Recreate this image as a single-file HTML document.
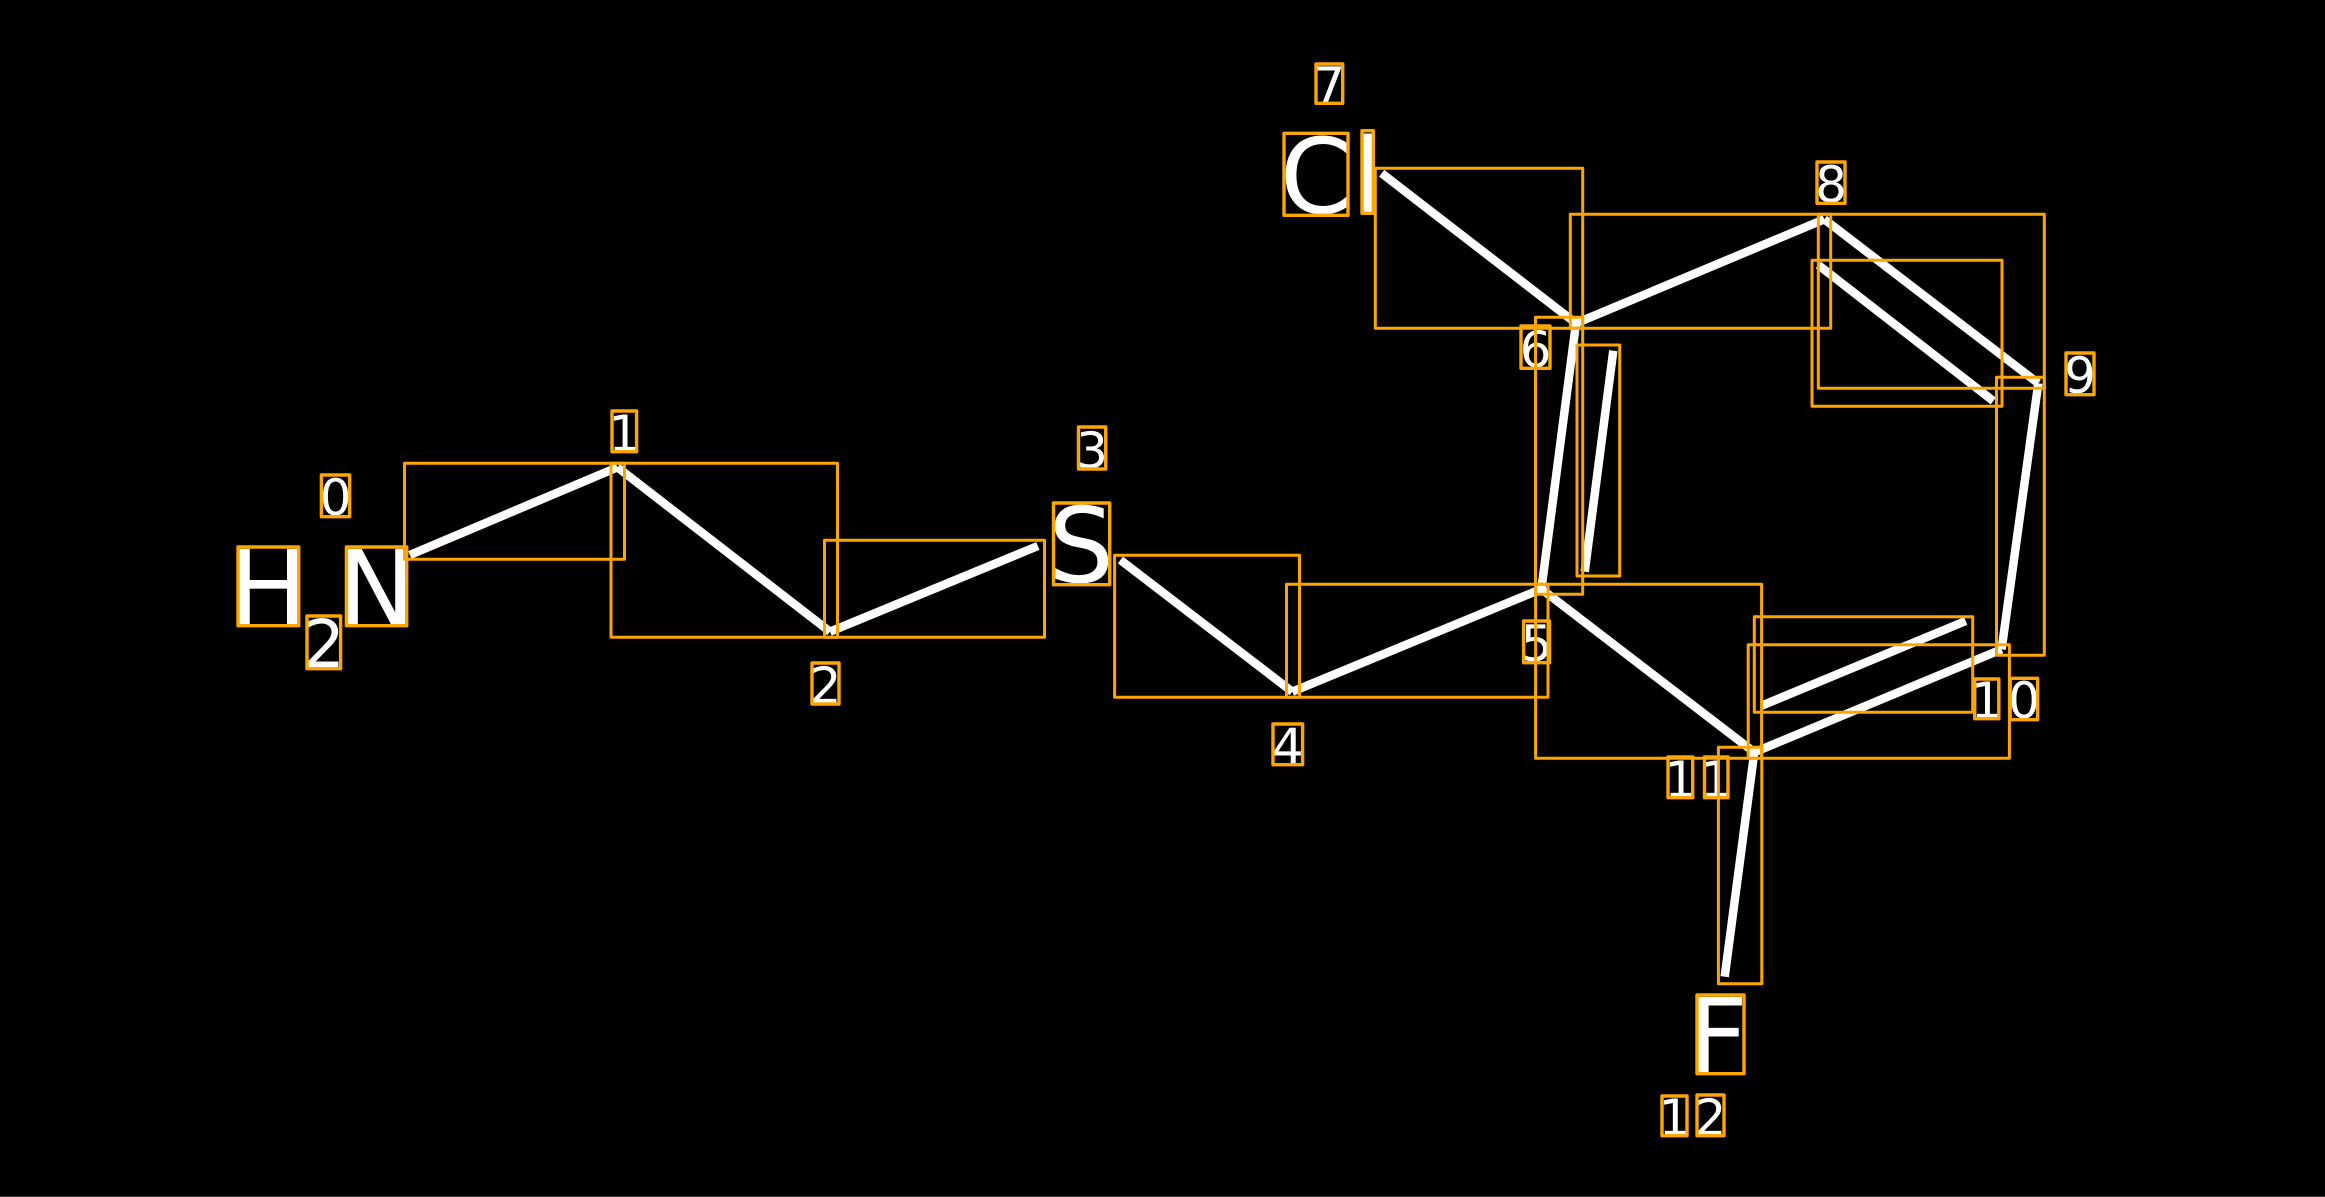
<!DOCTYPE html>
<html><head><meta charset="utf-8"><style>
html,body{margin:0;padding:0;background:#000;width:2325px;height:1197px;overflow:hidden}
svg{display:block}
text{font-family:"DejaVu Sans",sans-serif;fill:#fff;text-anchor:middle}
.l{font-size:50px}.b{font-size:104px}.s{font-size:66px}
</style></head><body>
<svg width="2325" height="1197" viewBox="0 0 2325 1197" xmlns="http://www.w3.org/2000/svg">
<rect width="2325" height="1197" fill="#000"/>
<rect y="1196" width="2325" height="1" fill="#3a3a3a"/>
<g stroke="#fff" stroke-width="8.5" fill="none" stroke-linecap="butt">
<line x1="409.8" y1="555" x2="617.4" y2="467.3"/>
<line x1="617.4" y1="467.3" x2="830" y2="631.7"/>
<line x1="830" y1="631.7" x2="1037.9" y2="546"/>
<line x1="1120.4" y1="560" x2="1292.3" y2="691.7"/>
<line x1="1292.3" y1="691.7" x2="1541.4" y2="589"/>
<line x1="1541.4" y1="589" x2="1576" y2="323.3"/>
<line x1="1584.7" y1="571.7" x2="1613.3" y2="350.7"/>
<line x1="1381.7" y1="173.3" x2="1576" y2="323.3"/>
<line x1="1576" y1="323.3" x2="1824.3" y2="219.3"/>
<line x1="1824.3" y1="219.3" x2="2038.3" y2="383.3"/>
<line x1="1818.3" y1="265" x2="1993.3" y2="401"/>
<line x1="2038.3" y1="383.3" x2="2001.6" y2="649.3"/>
<line x1="2001.6" y1="649.3" x2="1754.3" y2="752.3"/>
<line x1="1965.7" y1="621" x2="1761.6" y2="705.7"/>
<line x1="1754.3" y1="752.3" x2="1541.4" y2="589"/>
<line x1="1754.3" y1="752.3" x2="1724.7" y2="976.7"/>
</g>
<text class="b" x="268.4" y="625">H</text>
<text class="b" x="376.5" y="625">N</text>
<text class="s" x="324" y="667">2</text>
<text class="b" x="1081" y="582">S</text>
<text class="b" x="1316" y="213">C</text>
<text class="b" x="1367.7" y="213">l</text>
<text class="b" x="1718" y="1073">F</text>
<text class="l" x="335.5" y="515">0</text>
<text class="l" x="624.3" y="451">1</text>
<text class="l" x="825.5" y="703">2</text>
<text class="l" x="1092" y="468">3</text>
<text class="l" x="1287.8" y="764">4</text>
<text class="l" x="1536.5" y="661">5</text>
<text class="l" x="1535.5" y="367">6</text>
<text class="l" x="1329.3" y="103">7</text>
<text class="l" x="1831" y="202">8</text>
<text class="l" x="2080" y="393">9</text>
<text class="l" x="1986.7" y="718">1</text>
<text class="l" x="2024" y="718">0</text>
<text class="l" x="1680.3" y="797">1</text>
<text class="l" x="1716.2" y="797">1</text>
<text class="l" x="1674.5" y="1135">1</text>
<text class="l" x="1710.5" y="1135">2</text>
<g fill="none" stroke="#ffa500" stroke-width="3" stroke-linejoin="round">
<rect x="404.5" y="463.3" width="220" height="96"/>
<rect x="611" y="463.3" width="226.5" height="174"/>
<rect x="824.5" y="540.3" width="220" height="97"/>
<rect x="1114.6" y="555.3" width="184.9" height="142"/>
<rect x="1286.5" y="584.3" width="261.5" height="113"/>
<rect x="1535.5" y="317.3" width="47.2" height="277"/>
<rect x="1577" y="345" width="42.7" height="231"/>
<rect x="1375.3" y="168.3" width="207.4" height="160"/>
<rect x="1570.3" y="214.3" width="260.4" height="114"/>
<rect x="1818.3" y="214.3" width="226" height="174"/>
<rect x="1812" y="260.3" width="190" height="146"/>
<rect x="1996.5" y="377.3" width="47.8" height="278"/>
<rect x="1748.2" y="644.7" width="261.2" height="113.6"/>
<rect x="1754.3" y="616.7" width="218.4" height="95.6"/>
<rect x="1535.6" y="584.3" width="226" height="174"/>
<rect x="1718.4" y="747.3" width="43.4" height="236.4"/>
</g>
<g fill="none" stroke="#ffa500" stroke-width="3.4" stroke-linejoin="round">
<rect x="238" y="547" width="60.7" height="78.7"/>
<rect x="346.4" y="547" width="60.3" height="78.7"/>
<rect x="307" y="616" width="33.6" height="52.7"/>
<rect x="321.4" y="475" width="28.2" height="41.7"/>
<rect x="612" y="411" width="24.6" height="40.7"/>
<rect x="812" y="663" width="27" height="41"/>
<rect x="1078.5" y="427" width="27.2" height="42"/>
<rect x="1053.5" y="503" width="56.2" height="81.7"/>
<rect x="1273" y="724" width="29.6" height="40.7"/>
<rect x="1523.6" y="621" width="25.9" height="41.7"/>
<rect x="1521" y="326" width="29" height="42.3"/>
<rect x="1316" y="64" width="26.7" height="39.3"/>
<rect x="1284" y="133.3" width="64" height="82"/>
<rect x="1362" y="130.7" width="11.3" height="82.6"/>
<rect x="1817" y="162" width="28" height="41.3"/>
<rect x="2066" y="353" width="28" height="41.7"/>
<rect x="1974.7" y="679" width="24.1" height="39.7"/>
<rect x="2010.2" y="678.3" width="27.4" height="41.4"/>
<rect x="1668" y="757" width="24.7" height="40.7"/>
<rect x="1704.5" y="757" width="23.5" height="40.7"/>
<rect x="1697" y="995" width="47" height="78.7"/>
<rect x="1662" y="1096" width="25" height="39.7"/>
<rect x="1697" y="1095" width="27" height="40.7"/>
</g>
</svg>
</body></html>
